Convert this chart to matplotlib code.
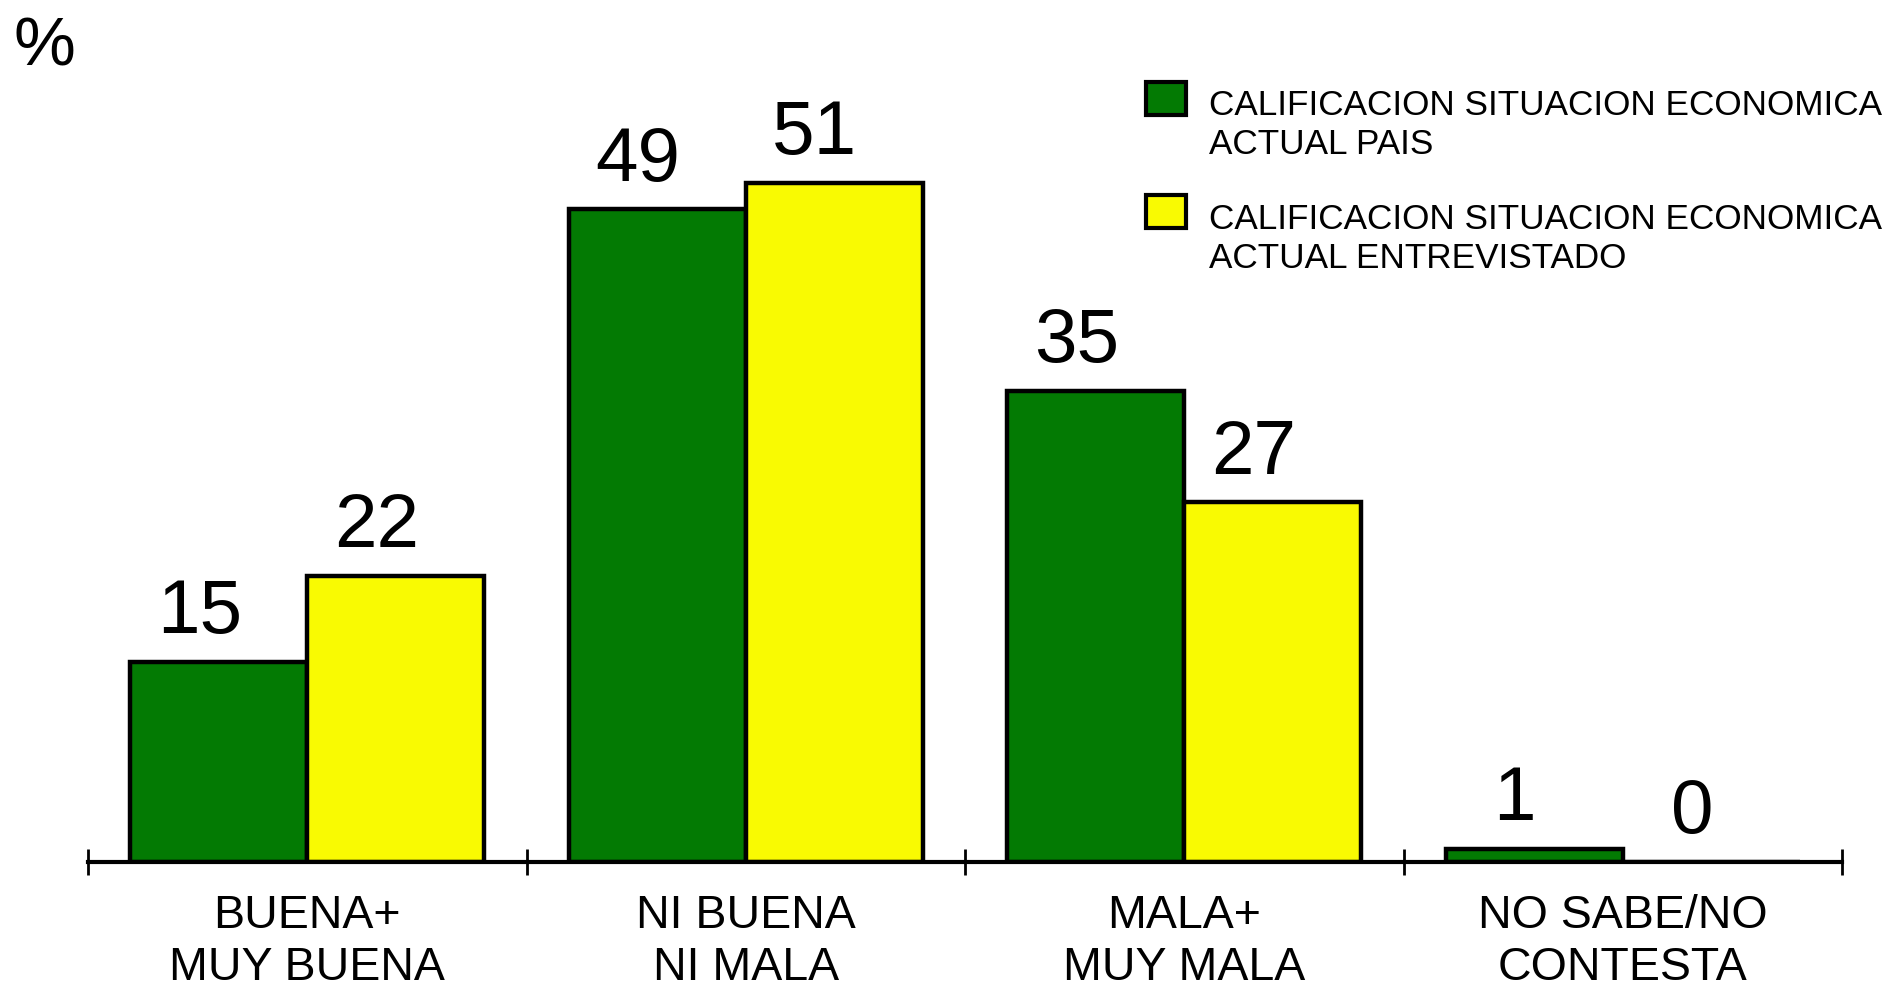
import matplotlib
matplotlib.use("Agg")
import matplotlib.pyplot as plt
from matplotlib.patches import Rectangle
import numpy as np

# ==============================
# DATA
# ==============================
categories = ["BUENA+\nMUY BUENA", "NI BUENA\nNI MALA", "MALA+\nMUY MALA", "NO SABE/NO\nCONTESTA"]
# bar heights, value labels as printed on it
pais = [15.0, 49.0, 35.4, 1.0]
entrevistado = [21.5, 51.0, 27.0, 0.0]
pais_labels = ["15", "49", "35", "1"]
entrevistado_labels = ["22", "51", "27", "0"]
series_names = ["CALIFICACION SITUACION ECONOMICA\nACTUAL PAIS",
                "CALIFICACION SITUACION ECONOMICA\nACTUAL ENTREVISTADO"]

GREEN = "#037A03"
YELLOW = "#F9FA02"

plt.rcParams['font.family'] = ['Liberation Sans', 'DejaVu Sans']

# ==============================
# FIGURE
# ==============================
W, H = 1888, 987
fig = plt.figure(figsize=(W / 100, H / 100), dpi=100)
ax = fig.add_axes([88 / W, 124 / H, 1754 / W, 799 / H])

x = np.arange(len(categories))
bw = 0.404

b1 = ax.bar(x - bw / 2, pais, bw, color=GREEN, edgecolor="black", linewidth=3.2)
b2 = ax.bar(x + bw / 2, entrevistado, bw, color=YELLOW, edgecolor="black", linewidth=3.2)

for bars, vals, labs in [(b1, pais, pais_labels), (b2, entrevistado, entrevistado_labels)]:
    for rect, v, lab in zip(bars, vals, labs):
        ax.annotate(lab, (rect.get_x() + rect.get_width() / 2, v),
                    xytext=(-14, 10), textcoords="offset points",
                    ha="center", va="bottom", fontsize=55, annotation_clip=False)

ax.set_xlim(-0.5, len(categories) - 0.5)
ax.set_ylim(0, 60)

for s in ["top", "left", "right"]:
    ax.spines[s].set_visible(False)
ax.spines["bottom"].set_linewidth(3)
ax.set_yticks([])

# tick marks at category boundaries, labels at centres
ax.set_xticks(np.arange(len(categories) + 1) - 0.5)
ax.set_xticklabels([])
ax.tick_params(axis="x", which="major", direction="inout", length=19, width=2)
ax.set_xticks(x, minor=True)
ax.set_xticklabels(categories, minor=True, fontsize=33.5, linespacing=1.26)
ax.tick_params(axis="x", which="minor", length=0, pad=22)

# "%" label
fig.text(14 / W, 1 - 65 / H, "%", fontsize=50, ha="left", va="baseline")

# legend drawn by hand
sq_top = [83, 196]
txt_mid = [125, 239]
for i, (name, col) in enumerate(zip(series_names, [GREEN, YELLOW])):
    fig.add_artist(Rectangle((1146 / W, 1 - (sq_top[i] + 33) / H), 40 / W, 33 / H,
                             transform=fig.transFigure, facecolor=col,
                             edgecolor="black", linewidth=3))
    fig.text(1209 / W, 1 - txt_mid[i] / H, name, fontsize=25.3,
             ha="left", va="center", linespacing=1.26)

fig.savefig("out.png", dpi=100)
